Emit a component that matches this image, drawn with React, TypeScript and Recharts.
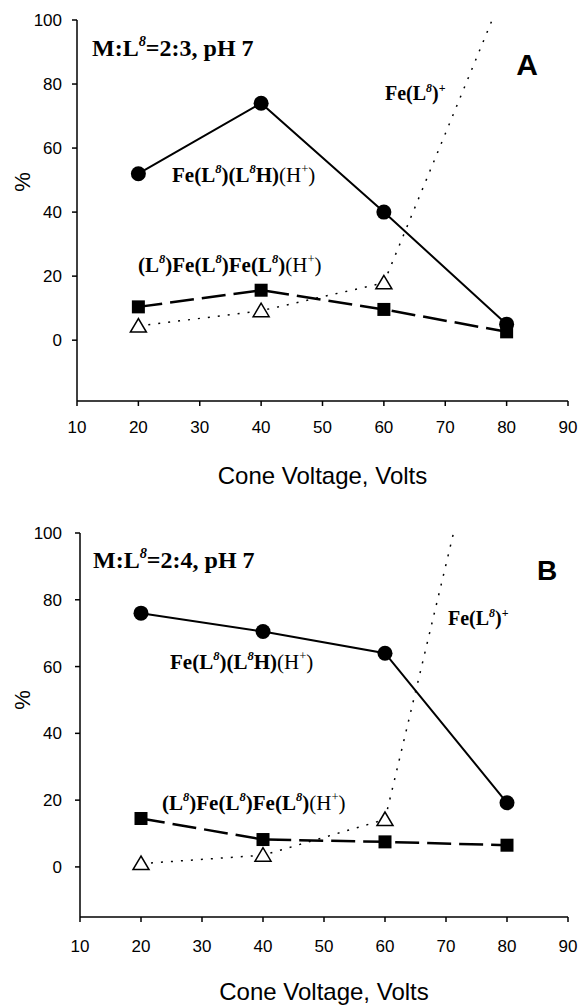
import React from 'react';
import { LineChart, Line, XAxis, YAxis, Label, Customized } from 'recharts';

const voltages = [20, 40, 60, 80];
const xTicks = [10, 20, 30, 40, 50, 60, 70, 80, 90];
const yTicks = [0, 20, 40, 60, 80, 100];

// panel A, M:L8 = 2:3
const monoA = [52, 74, 40, 5];
const dimerA = [10.4, 15.6, 9.6, 2.6];
const freeA = [4.4, 9.2, 17.9, 111];

// panel B, M:L8 = 2:4
const monoB = [76, 70.5, 64, 19.2];
const dimerB = [14.5, 8.2, 7.5, 6.5];
const freeB = [1, 3.5, 14.2, 167];

const toRows = (mono: number[], dimer: number[], free: number[]) =>
  voltages.map((v, i) => ({ v, mono: mono[i], dimer: dimer[i], free: free[i] }));

const serif = "'Liberation Serif', 'Times New Roman', serif";
const sans = "'Liberation Sans', Arial, sans-serif";

type Seg = { t: string; sup?: boolean; normal?: boolean };

const Chem = ({ x, y, size, segs }: { x: number; y: number; size: number; segs: Seg[] }) => {
  let raised = false;
  return (
    <text x={x} y={y} fontFamily={serif} fontSize={size} fill="#000">
      {segs.map((s, i) => {
        const up = size * 0.42;
        const dy = s.sup ? (raised ? 0 : -up) : raised ? up : 0;
        raised = !!s.sup;
        return (
          <tspan
            key={i}
            dy={dy}
            fontSize={s.sup ? size * 0.6 : size}
            fontWeight={s.normal ? 'normal' : 'bold'}
            fontStyle={s.sup && s.t === '8' ? 'italic' : 'normal'}
          >
            {s.t}
          </tspan>
        );
      })}
    </text>
  );
};

const freeSegs: Seg[] = [{ t: 'Fe(L' }, { t: '8', sup: true }, { t: ')' }, { t: '+', sup: true }];
const monoSegs: Seg[] = [
  { t: 'Fe(L' }, { t: '8', sup: true }, { t: ')(L' }, { t: '8', sup: true }, { t: 'H)' },
  { t: '(H', normal: true }, { t: '+', sup: true, normal: true }, { t: ')', normal: true },
];
const dimerSegs: Seg[] = [
  { t: '(L' }, { t: '8', sup: true }, { t: ')Fe(L' }, { t: '8', sup: true }, { t: ')Fe(L' },
  { t: '8', sup: true }, { t: ')' },
  { t: '(H', normal: true }, { t: '+', sup: true, normal: true }, { t: ')', normal: true },
];

const SquareDot = (props: any) => {
  const { cx, cy, index } = props;
  if (cx == null || cy == null) return <g key={index} />;
  return <rect key={index} x={cx - 6.5} y={cy - 6.5} width={13} height={13} fill="#000" />;
};

const TriangleDot = (props: any) => {
  const { cx, cy, index } = props;
  if (cx == null || cy == null) return <g key={index} />;
  return (
    <polygon
      key={index}
      points={`${cx},${cy - 7.5} ${cx - 8},${cy + 6} ${cx + 8},${cy + 6}`}
      fill="#fff"
      stroke="#000"
      strokeWidth={1.5}
    />
  );
};

type PanelProps = {
  rows: ReturnType<typeof toRows>;
  height: number;
  top: number;
  plotH: number;
  yAxisW: number;
  yMin: number;
  xTickMargin: number;
  yTickMargin: number;
  titleOffset: number;
  ratio: string;
  letter: string;
  notes: {
    ml: [number, number];
    letter: [number, number, number];
    free: [number, number];
    mono: [number, number];
    dimer: [number, number];
    pct: [number, number];
  };
};

const Panel = (p: PanelProps) => {
  const n = p.notes;
  return (
    <LineChart
      width={582}
      height={p.height}
      data={p.rows}
      margin={{ top: p.top, right: 14, bottom: 0, left: 0 }}
    >
      <XAxis
        dataKey="v"
        type="number"
        domain={[10, 90]}
        ticks={xTicks}
        height={p.height - p.top - p.plotH}
        stroke="#000"
        strokeWidth={1.5}
        tickSize={5}
        tickMargin={p.xTickMargin}
        tick={{ fill: '#000', fontSize: 17, fontFamily: sans }}
      >
        <Label
          value="Cone Voltage, Volts"
          position="insideBottom"
          offset={p.titleOffset}
          style={{ fill: '#000', fontSize: 24, fontFamily: sans }}
        />
      </XAxis>
      <XAxis xAxisId="top" orientation="top" type="number" domain={[10, 90]} height={0} tick={false} tickLine={false} stroke="#000" strokeWidth={1.5} />
      <YAxis
        type="number"
        domain={[p.yMin, 100]}
        ticks={yTicks}
        allowDataOverflow
        width={p.yAxisW}
        stroke="#000"
        strokeWidth={1.5}
        tickSize={5}
        tickMargin={p.yTickMargin}
        tick={{ fill: '#000', fontSize: 17, fontFamily: sans }}
      />
      <YAxis yAxisId="right" orientation="right" domain={[p.yMin, 100]} width={0} tick={false} tickLine={false} stroke="#000" strokeWidth={1.5} />
      <Line
        dataKey="mono"
        stroke="#000"
        strokeWidth={2}
        dot={{ r: 7.5, fill: '#000', stroke: '#000', strokeWidth: 0 }}
        isAnimationActive={false}
      />
      <Line
        dataKey="dimer"
        stroke="#000"
        strokeWidth={2.5}
        strokeDasharray="24 8"
        dot={SquareDot}
        isAnimationActive={false}
      />
      <Line
        dataKey="free"
        stroke="#000"
        strokeWidth={1.5}
        strokeDasharray="2 8"
        dot={TriangleDot}
        isAnimationActive={false}
      />
      <Customized
        component={
          <g>
            <Chem
              x={n.ml[0]}
              y={n.ml[1]}
              size={24}
              segs={[{ t: 'M:L' }, { t: '8', sup: true }, { t: p.ratio }]}
            />
            <text
              x={n.letter[0]}
              y={n.letter[1]}
              textAnchor="middle"
              fontFamily={sans}
              fontWeight="bold"
              fontSize={n.letter[2]}
              fill="#000"
            >
              {p.letter}
            </text>
            <Chem x={n.free[0]} y={n.free[1]} size={20} segs={freeSegs} />
            <Chem x={n.mono[0]} y={n.mono[1]} size={21} segs={monoSegs} />
            <Chem x={n.dimer[0]} y={n.dimer[1]} size={21} segs={dimerSegs} />
            <text
              x={n.pct[0]}
              y={n.pct[1]}
              textAnchor="middle"
              dominantBaseline="central"
              transform={`rotate(-90 ${n.pct[0]} ${n.pct[1]})`}
              fontFamily={sans}
              fontSize={22}
              fill="#000"
            >
              %
            </text>
          </g>
        }
      />
    </LineChart>
  );
};

export default function App() {
  return (
    <div style={{ position: 'absolute', left: 0, top: 0, width: 582, height: 1005, background: '#fff' }}>
      <Panel
        rows={toRows(monoA, dimerA, freeA)}
        height={500}
        top={20}
        plotH={381}
        yAxisW={77}
        yMin={-19}
        xTickMargin={15}
        yTickMargin={10}
        titleOffset={16}
        ratio="=2:3, pH 7"
        letter="A"
        notes={{
          ml: [92, 56],
          letter: [527, 75, 30],
          free: [385, 100],
          mono: [172, 182],
          dimer: [138, 272],
          pct: [22, 182],
        }}
      />
      <Panel
        rows={toRows(monoB, dimerB, freeB)}
        height={505}
        top={33}
        plotH={384}
        yAxisW={80}
        yMin={-15}
        xTickMargin={18}
        yTickMargin={13}
        titleOffset={5}
        ratio="=2:4, pH 7"
        letter="B"
        notes={{
          ml: [93, 68],
          letter: [547, 80, 28],
          free: [448, 125],
          mono: [170, 169],
          dimer: [162, 310],
          pct: [22, 200],
        }}
      />
    </div>
  );
}
